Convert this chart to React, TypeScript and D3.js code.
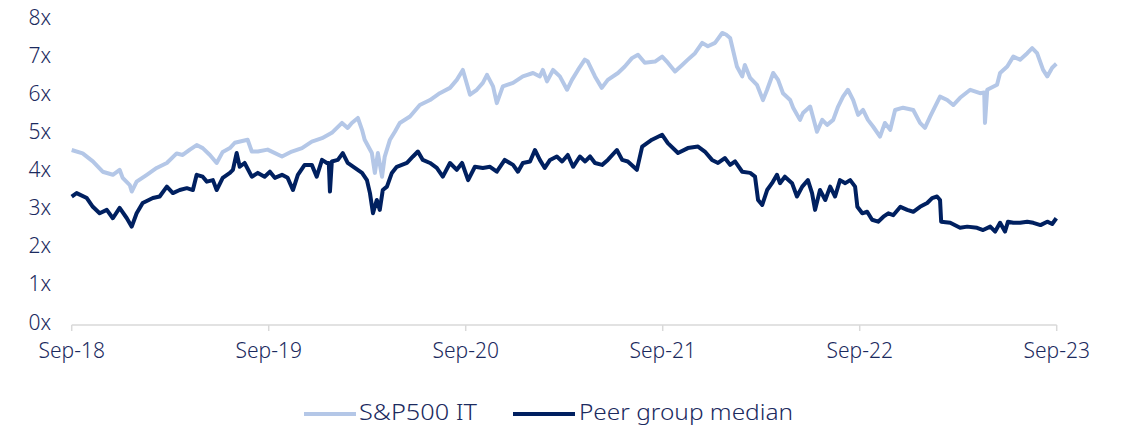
import * as d3 from "d3";

// x = weeks since Sep-18, y = multiple
const spxIt: [number, number][] = [
  [0, 4.59], [2.9, 4.5], [5.6, 4.29], [8.2, 4.02], [10.9, 3.94], [12.7, 4.07], [13.5, 3.86], [15.4, 3.67],
  [15.9, 3.5], [17.2, 3.76], [19.9, 3.94], [22.5, 4.12], [25.2, 4.25], [27.8, 4.5], [29.4, 4.46], [31.3, 4.6],
  [33.1, 4.72], [34.7, 4.64], [36.6, 4.46], [38.4, 4.25], [40.0, 4.54], [41.9, 4.64], [43.2, 4.78], [46.6, 4.86],
  [47.7, 4.55], [49.3, 4.55], [51.9, 4.6], [55.7, 4.42], [58.3, 4.55], [61.0, 4.64], [63.6, 4.81], [66.3, 4.9],
  [68.9, 5.04], [71.6, 5.3], [73.1, 5.17], [74.2, 5.3], [75.8, 5.43], [76.9, 5.12], [77.6, 4.86], [79.5, 4.51],
  [80.3, 3.99], [81.1, 4.51], [82.2, 3.89], [82.9, 4.41], [84.3, 4.86], [85.6, 5.07], [86.9, 5.3], [89.6, 5.47],
  [92.2, 5.77], [94.9, 5.9], [97.5, 6.08], [100.2, 6.22], [102.0, 6.43], [103.6, 6.69], [105.5, 6.04], [107.3, 6.17],
  [108.9, 6.35], [110.0, 6.56], [111.6, 6.26], [112.6, 5.82], [114.2, 6.26], [116.9, 6.35], [119.5, 6.52], [122.2, 6.61],
  [124.0, 6.52], [124.8, 6.69], [125.9, 6.39], [127.5, 6.69], [129.3, 6.52], [131.2, 6.17], [132.5, 6.43], [134.1, 6.69],
  [135.9, 6.96], [136.7, 6.91], [138.6, 6.52], [140.4, 6.22], [142.0, 6.43], [144.7, 6.61], [146.5, 6.78], [148.4, 7.0],
  [150.0, 7.09], [151.8, 6.88], [154.5, 6.91], [156.4, 7.04], [157.9, 6.88], [159.8, 6.65], [161.7, 6.82], [163.2, 6.96],
  [165.1, 7.13], [167.0, 7.4], [168.5, 7.31], [170.4, 7.4], [172.3, 7.66], [173.3, 7.62], [174.4, 7.53], [176.2, 6.78],
  [177.6, 6.52], [178.3, 6.82], [179.7, 6.48], [181.5, 6.3], [183.1, 5.9], [184.2, 6.17], [185.8, 6.61], [187.1, 6.43],
  [188.4, 6.08], [190.3, 5.9], [191.1, 5.7], [192.9, 5.38], [193.7, 5.56], [195.6, 5.73], [197.4, 5.07], [198.8, 5.38],
  [200.1, 5.25], [201.7, 5.38], [203.0, 5.73], [204.3, 5.99], [205.6, 6.17], [207.0, 5.9], [208.3, 5.51], [209.6, 5.64],
  [210.9, 5.38], [212.3, 5.2], [214.1, 4.94], [215.4, 5.3], [216.8, 5.12], [218.1, 5.64], [220.2, 5.7], [222.9, 5.64],
  [224.7, 5.3], [226.0, 5.17], [227.4, 5.47], [230.0, 5.99], [231.9, 5.9], [233.5, 5.77], [235.3, 5.96], [238.0, 6.17],
  [240.6, 6.08], [241.7, 6.1], [241.9, 5.3], [242.5, 6.17], [245.1, 6.3], [245.9, 6.61], [247.8, 6.78], [249.4, 7.04],
  [251.2, 6.96], [253.1, 7.13], [254.4, 7.26], [255.7, 7.13], [257.3, 6.69], [258.4, 6.52], [259.7, 6.75], [260.8, 6.85],
];

const peerMedian: [number, number][] = [
  [0, 3.37], [1.3, 3.46], [4.0, 3.33], [5.6, 3.1], [7.4, 2.93], [9.3, 3.02], [10.9, 2.8], [12.7, 3.07],
  [14.6, 2.8], [15.9, 2.58], [17.2, 2.93], [18.8, 3.2], [21.5, 3.33], [23.3, 3.37], [25.2, 3.63], [26.8, 3.46],
  [28.6, 3.54], [30.5, 3.59], [32.1, 3.54], [33.1, 3.94], [34.7, 3.89], [35.8, 3.76], [37.4, 3.8], [38.4, 3.54],
  [40.0, 3.86], [41.9, 3.99], [42.7, 4.07], [43.7, 4.51], [44.5, 4.15], [45.8, 4.25], [47.7, 3.89], [49.3, 3.99],
  [51.1, 3.89], [52.5, 4.02], [53.8, 3.86], [55.7, 3.94], [57.2, 3.86], [58.6, 3.54], [59.9, 3.94], [61.7, 4.2],
  [63.6, 4.2], [64.9, 3.89], [66.3, 4.33], [67.6, 4.25], [68.1, 4.25], [68.4, 3.5], [68.9, 4.29], [70.5, 4.33],
  [71.8, 4.51], [73.1, 4.25], [75.0, 4.12], [76.9, 3.99], [78.2, 3.8], [79.0, 3.46], [79.8, 2.93], [80.8, 3.28],
  [81.6, 3.02], [82.4, 3.54], [83.5, 3.63], [84.8, 3.99], [86.1, 4.15], [88.8, 4.25], [90.4, 4.42], [91.7, 4.55],
  [93.0, 4.33], [94.9, 4.25], [96.7, 4.12], [98.3, 3.89], [100.2, 4.25], [102.0, 4.07], [103.4, 4.25], [105.0, 3.8],
  [106.8, 4.15], [108.9, 4.12], [110.8, 4.15], [112.6, 4.02], [114.7, 4.33], [116.9, 4.2], [118.2, 4.02], [119.5, 4.25],
  [121.4, 4.29], [122.7, 4.59], [124.0, 4.33], [125.3, 4.12], [126.7, 4.33], [128.5, 4.42], [129.9, 4.29], [131.4, 4.46],
  [132.8, 4.15], [134.6, 4.42], [136.0, 4.29], [137.3, 4.42], [138.6, 4.25], [140.5, 4.2], [142.0, 4.33], [144.4, 4.59],
  [145.8, 4.33], [147.3, 4.29], [149.7, 4.07], [151.1, 4.68], [153.7, 4.86], [156.4, 4.99], [157.9, 4.77], [160.6, 4.51],
  [163.2, 4.64], [165.9, 4.68], [167.7, 4.55], [169.6, 4.33], [171.2, 4.25], [173.0, 4.38], [174.4, 4.2], [175.7, 4.29],
  [177.6, 4.02], [179.7, 3.99], [181.0, 3.89], [181.8, 3.28], [182.9, 3.15], [184.2, 3.54], [185.5, 3.72], [186.8, 3.94],
  [187.6, 3.72], [188.9, 3.89], [190.8, 3.72], [192.1, 3.37], [193.5, 3.63], [195.0, 3.8], [196.1, 3.46], [196.9, 3.02],
  [198.2, 3.54], [199.6, 3.28], [200.9, 3.63], [202.2, 3.37], [203.5, 3.8], [204.9, 3.72], [206.2, 3.8], [207.5, 3.63],
  [208.1, 3.1], [209.4, 2.93], [210.7, 2.97], [212.0, 2.76], [213.6, 2.71], [215.0, 2.84], [216.3, 2.93], [217.6, 2.88],
  [219.5, 3.1], [221.3, 3.02], [222.9, 2.97], [224.7, 3.1], [226.6, 3.2], [227.9, 3.33], [229.2, 3.37], [230.0, 3.28],
  [230.3, 2.71], [232.7, 2.68], [235.3, 2.55], [237.2, 2.58], [239.8, 2.55], [241.4, 2.49], [243.3, 2.58], [244.6, 2.45],
  [245.9, 2.68], [247.2, 2.45], [248.0, 2.71], [249.4, 2.68], [251.2, 2.68], [253.1, 2.71], [254.7, 2.68], [256.6, 2.62],
  [258.4, 2.71], [259.7, 2.65], [260.8, 2.8],
];

const tickWeeks = [0, 52.18, 104.36, 156.54, 208.72, 260.9];
const tickLabels = ["Sep-18", "Sep-19", "Sep-20", "Sep-21", "Sep-22", "Sep-23"];
const yTicks = [0, 1, 2, 3, 4, 5, 6, 7, 8];

const LIGHT = "#b4c7e7";
const DARK = "#002060";
const TEXT = "#1b2a5e";
const FONT = "'Noto Sans', Lato, sans-serif";

export default function App() {
  const width = 1125, height = 431;
  const x = d3.scaleLinear().domain([0, 260.9]).range([71.7, 1056.7]);
  const y = d3.scaleLinear().domain([0, 8]).range([325, 20]);

  const line = d3
    .line<[number, number]>()
    .x((d) => x(d[0]))
    .y((d) => y(d[1]));

  return (
    <svg
      width={width}
      height={height}
      style={{ position: "absolute", left: 0, top: 0, background: "#fff" }}
      fontFamily={FONT}
    >
      {/* y labels */}
      {yTicks.map((t) => (
        <text
          key={t}
          x={51}
          y={y(t) - 1}
          textAnchor="end"
          dominantBaseline="middle"
          fontSize={21}
          fontWeight={300}
          fill={TEXT}
        >
          {t + "x"}
        </text>
      ))}

      {/* x axis */}
      <line x1={x(0)} x2={x(260.9)} y1={y(0)} y2={y(0)} stroke="#d9d9d9" strokeWidth={1.5} />
      {tickWeeks.map((w, i) => (
        <g key={i} transform={`translate(${x(w)},0)`}>
          <line y1={y(0)} y2={y(0) + 6} stroke="#d9d9d9" strokeWidth={1.5} />
          <text
            y={352}
            textAnchor="middle"
            dominantBaseline="middle"
            fontSize={21}
            fontWeight={300}
            fill={TEXT}
          >
            {tickLabels[i]}
          </text>
        </g>
      ))}

      <path d={line(spxIt) ?? ""} fill="none" stroke={LIGHT} strokeWidth={4} strokeLinejoin="round" />
      <path d={line(peerMedian) ?? ""} fill="none" stroke={DARK} strokeWidth={4} strokeLinejoin="round" />

      {/* legend */}
      <g fontSize={21} fontWeight={300} fill={TEXT}>
        <line x1={304} x2={356} y1={414} y2={414} stroke={LIGHT} strokeWidth={4} />
        <text x={359} y={414} dominantBaseline="middle" textLength={118} lengthAdjust="spacingAndGlyphs">
          S&amp;P500 IT
        </text>
        <line x1={513} x2={575} y1={414} y2={414} stroke={DARK} strokeWidth={4} />
        <text x={579} y={414} dominantBaseline="middle" textLength={214} lengthAdjust="spacingAndGlyphs">
          Peer group median
        </text>
      </g>
    </svg>
  );
}
